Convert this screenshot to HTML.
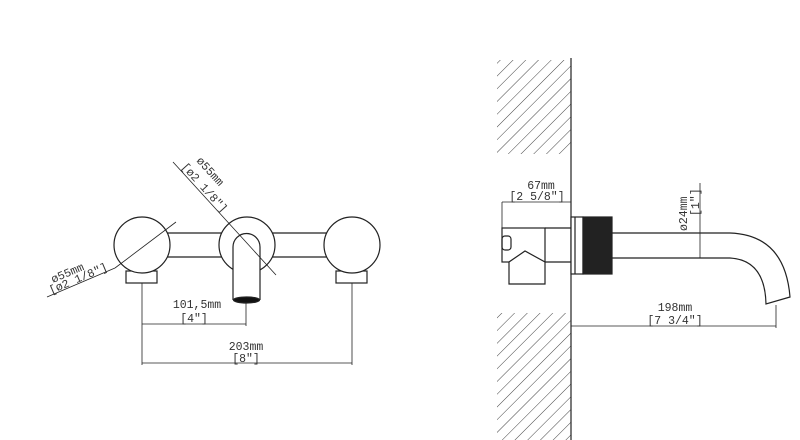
<!DOCTYPE html>
<html><head><style>body{margin:0;background:#fff}svg{display:block}text{font-family:"Liberation Mono",monospace;font-size:11.5px;fill:#333}</style></head><body>
<svg width="800" height="440" viewBox="0 0 800 440" xmlns="http://www.w3.org/2000/svg">
<defs>
<pattern id="h" width="9" height="9" patternUnits="userSpaceOnUse" patternTransform="rotate(45)"><line x1="0" y1="0" x2="0" y2="9" stroke="#444" stroke-width="1"/></pattern>
</defs>
<g fill="none" stroke="#222" stroke-width="1.2">
<line x1="166" y1="233" x2="222" y2="233"/><line x1="166" y1="257" x2="222" y2="257"/>
<line x1="271" y1="233" x2="327" y2="233"/><line x1="271" y1="257" x2="327" y2="257"/>
<rect x="126" y="271" width="31" height="12"/>
<rect x="336" y="271" width="31" height="12"/>
<circle cx="142" cy="245" r="28" fill="#fff"/>
<circle cx="247" cy="245" r="28" fill="#fff"/>
<circle cx="352" cy="245" r="28" fill="#fff"/>
<path d="M233 300 V247 A13.5 13.5 0 0 1 260 247 V300" fill="#fff"/>
<ellipse cx="246.5" cy="300" rx="13" ry="3" fill="#111"/>
<g stroke-width="0.8">
<line x1="47" y1="297" x2="115" y2="268"/><line x1="115" y1="268" x2="176" y2="222"/>
<line x1="173" y1="162" x2="276" y2="275"/>
<line x1="142" y1="283" x2="142" y2="365"/><line x1="246" y1="303" x2="246" y2="326"/><line x1="352" y1="283" x2="352" y2="365"/>
<line x1="142" y1="324" x2="246" y2="324"/><line x1="142" y1="363" x2="352" y2="363"/>
</g>
<rect x="497" y="60" width="74" height="94" fill="url(#h)" stroke="none"/>
<rect x="497" y="313" width="74" height="127" fill="url(#h)" stroke="none"/>
<line x1="571" y1="58" x2="571" y2="440"/>
<rect x="502" y="228" width="43" height="34" fill="#fff"/>
<line x1="545" y1="228" x2="571" y2="228"/><line x1="545" y1="262" x2="571" y2="262"/>
<rect x="502" y="236" width="9" height="14" rx="3"/>
<path d="M509 284 V262 L525 251 L545 262 V284 Z" fill="#fff"/>
<rect x="571" y="217" width="12" height="57" fill="#fff"/>
<line x1="575" y1="217" x2="575" y2="274"/>
<rect x="583" y="217" width="29" height="57" fill="#222"/>
<path d="M612 233 H730 Q785 235 790 297 L766 304 Q765 260 730 258 H612"/>
<g stroke-width="0.8">
<line x1="502" y1="202" x2="502" y2="230"/><line x1="502" y1="202" x2="571" y2="202"/>
<line x1="700" y1="183" x2="700" y2="258"/><line x1="690" y1="233" x2="705" y2="233"/>
<line x1="571" y1="326" x2="776" y2="326"/><line x1="776" y1="305" x2="776" y2="328"/>
</g>
</g>
<g text-anchor="middle">
<text x="197" y="308">101,5mm</text>
<text x="194" y="322">[4"]</text>
<text x="246" y="350">203mm</text>
<text x="246" y="362">[8"]</text>
<text x="541" y="189">67mm</text>
<text x="537" y="200">[2 5/8"]</text>
<text x="675" y="311">198mm</text>
<text x="675" y="324">[7 3/4"]</text>
</g>
<text transform="translate(53,283) rotate(-23)">ø55mm</text>
<text transform="translate(51,294) rotate(-23)">[ø2 1/8"]</text>
<text transform="translate(196,161) rotate(48)">ø55mm</text>
<text transform="translate(181,167) rotate(48)">[ø2 1/8"]</text>
<text transform="translate(687,231) rotate(-90)">ø24mm</text>
<text transform="translate(699,216) rotate(-90)">[1"]</text>
</svg>
</body></html>
